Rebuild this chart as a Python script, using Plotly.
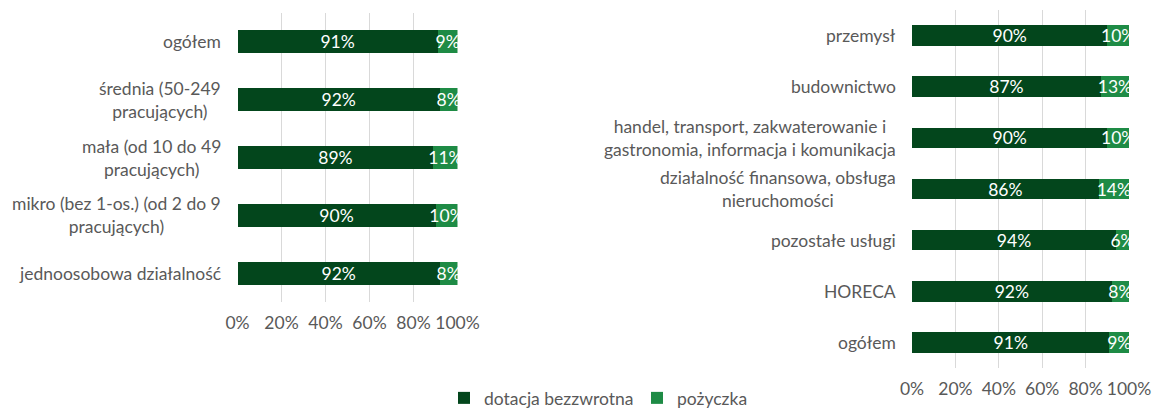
import plotly.graph_objects as go

# Left chart: by company size
size_cats = ["ogółem", "średnia (50-249<br>pracujących)", "mała (od 10 do 49<br>pracujących)",
             "mikro (bez 1-os.) (od 2 do 9<br>pracujących)", "jednoosobowa działalność"]
size_dotacja = [91, 92, 89, 90, 92]
size_pozyczka = [9, 8, 11, 10, 8]

# Right chart: by sector
sector_cats = ["przemysł", "budownictwo", "handel, transport, zakwaterowanie i<br>gastronomia, informacja i komunikacja",
               "działalność finansowa, obsługa<br>nieruchomości", "pozostałe usługi", "HORECA", "ogółem"]
sector_dotacja = [90, 87, 90, 86, 94, 92, 91]
sector_pozyczka = [10, 13, 10, 14, 6, 8, 9]

series_names = ["dotacja bezzwrotna", "pożyczka"]
x_ticks = [0, 20, 40, 60, 80, 100]
x_ticktext = ["0%", "20%", "40%", "60%", "80%", "100%"]

DARK = "#03461C"
LIGHT = "#1E8B45"
GRAY = "#595959"
FONT = "Lato"
FS = 17.5

fig = go.Figure()

def add_bars(cats, dot, poz, xa, ya, show):
    for name, vals, col in [(series_names[0], dot, DARK), (series_names[1], poz, LIGHT)]:
        fig.add_trace(go.Bar(
            y=cats, x=vals, orientation="h", name=name, marker_color=col,
            marker_line_width=0, xaxis=xa, yaxis=ya, showlegend=show,
            text=[f"{v}%" for v in vals], textposition="inside", textangle=0,
            insidetextanchor="middle", constraintext="none", cliponaxis=False,
            textfont=dict(color="white", size=FS, family=FONT),
        ))

add_bars(size_cats, size_dotacja, size_pozyczka, "x", "y", True)
add_bars(sector_cats, sector_dotacja, sector_pozyczka, "x2", "y2", False)

axis_x = dict(range=[0, 100], tickvals=x_ticks, ticktext=x_ticktext, showgrid=True,
              gridcolor="#D9D9D9", gridwidth=1, zeroline=False, showline=False,
              tickfont=dict(size=FS, color=GRAY, family=FONT), ticks="",
              ticklabelstandoff=8, fixedrange=True, automargin=False)
axis_y = dict(autorange="reversed", showticklabels=False, showgrid=False,
              zeroline=False, showline=False, ticks="", fixedrange=True, automargin=False)

W, H = 1154, 416
fig.update_layout(
    width=W, height=H, margin=dict(l=0, r=0, t=0, b=0, autoexpand=False),
    paper_bgcolor="white", plot_bgcolor="white",
    barmode="stack", bargap=0.6,
    font=dict(family=FONT, size=FS, color=GRAY),
    xaxis=dict(domain=[237.5 / W, 457.5 / W], anchor="y", **axis_x),
    yaxis=dict(domain=[(H - 302) / H, (H - 13) / H], anchor="x", **axis_y),
    xaxis2=dict(domain=[912 / W, 1129 / W], anchor="y2", **axis_x),
    yaxis2=dict(domain=[(H - 368) / H, (H - 10) / H], anchor="x2", **axis_y),
    legend=dict(orientation="h", x=444 / W, xanchor="left", y=0.0, yanchor="bottom",
                font=dict(size=FS, color=GRAY, family=FONT), traceorder="normal",
                itemwidth=30, entrywidthmode="pixels", entrywidth=148),
    uniformtext=dict(minsize=FS, mode="show"),
    showlegend=True,
)

# Category labels as centred multi-line text to the left of each plot
for cats, ya, xr in [(size_cats, "y", 223 / W), (sector_cats, "y2", 898 / W)]:
    for c in cats:
        fig.add_annotation(x=xr, xref="paper", y=c, yref=ya, text=c, showarrow=False,
                           xanchor="right", yanchor="middle", align="center",
                           font=dict(size=FS, color=GRAY, family=FONT))

fig.write_html("out.html", config={"displayModeBar": False},
               post_script="document.body.style.margin='0';document.body.style.overflow='hidden';")
